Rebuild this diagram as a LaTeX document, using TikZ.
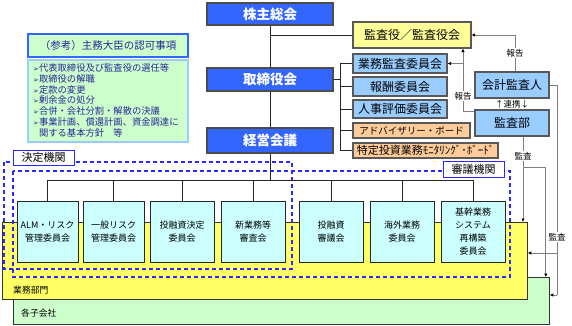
\documentclass[tikz,border=0pt]{standalone}
\usepackage{fontspec}
\setmainfont{Noto Sans CJK JP}
\newfontfamily\dejavu{DejaVu Sans}
\usetikzlibrary{arrows.meta}
\definecolor{mainblue}{RGB}{51,102,255}
\definecolor{lightblue}{RGB}{153,204,255}
\definecolor{paleyellow}{RGB}{255,255,153}
\definecolor{bizyellow}{RGB}{255,255,102}
\definecolor{paleorange}{RGB}{255,204,153}
\definecolor{palegreen}{RGB}{204,255,204}
\definecolor{palecyan}{RGB}{204,255,255}
\definecolor{dashblue}{RGB}{40,40,255}
\definecolor{navytext}{RGB}{40,40,150}
\definecolor{auditgray}{RGB}{128,128,128}
\tikzset{
  mainbox/.style={draw=black!70, line width=1.2pt, fill=mainblue, text=white,
    font=\fontsize{13.5}{14}\selectfont\bfseries, minimum width=126pt, inner sep=0pt},
  subbox/.style={draw=black!65, line width=1.2pt, inner sep=0pt, font=\fontsize{12}{13}\selectfont},
  smallbox/.style={draw=black!65, line width=1.2pt, inner sep=0pt, fill=paleorange},
  combox/.style={draw=black!85, line width=0.8pt, fill=palecyan, inner sep=0pt,
    minimum height=61pt, align=center, font=\fontsize{9}{12.8}\selectfont},
  treeline/.style={draw=black!85, line width=0.8pt},
  audit/.style={draw=auditgray, line width=0.8pt},
  arr/.style={-{Latex[length=3.5pt,width=3.5pt,color=black]}},
  lab/.style={fill=white, inner sep=1pt, font=\fontsize{8.5}{9}\selectfont},
  dashrect/.style={draw=dashblue, line width=1.1pt, dash pattern=on 4pt off 3pt},
  tagbox/.style={draw=dashblue, line width=1pt, fill=white, inner sep=0pt, font=\fontsize{11}{12}\selectfont}
}
\begin{document}
\begin{tikzpicture}[x=1pt,y=-1pt]
\useasboundingbox (0,0) rectangle (572,325);

% background areas
\node[draw=black!80, line width=0.8pt, fill=palegreen, minimum width=536pt, minimum height=47pt, inner sep=0pt, anchor=north west] (kogaisha) at (13,277) {};
\node[draw=black!80, line width=0.8pt, fill=bizyellow, minimum width=525pt, minimum height=77pt, inner sep=0pt, anchor=north west] (gyoumu) at (2,222) {};
\node[anchor=west, inner sep=0pt, font=\fontsize{8.8}{9}\selectfont] (kogaishaLab) at (21,313) {各子会社};
\node[anchor=west, inner sep=0pt, font=\fontsize{8.8}{9}\selectfont] (gyoumuLab) at (13,290) {業務部門};

% dashed groups
\draw[dashrect] (4,162) rectangle (292,269);
\draw[dashrect] (13,171) rectangle (510,277);
\node[tagbox, minimum width=61pt, minimum height=15pt] (kettei) at (43.5,157.5) {決定機関};
\node[tagbox, minimum width=61pt, minimum height=16pt] (shingi) at (473.5,169) {審議機関};

% left reference box
\node[draw=mainblue, line width=1.2pt, fill=palegreen, minimum width=160pt, minimum height=23pt, inner sep=0pt,
  text=navytext, font=\fontsize{10.5}{11}\selectfont] (ref) at (108,45.5) {（参考）主務大臣の認可事項};
\node[draw=lightblue, line width=1.2pt, fill=palegreen, minimum width=160pt, minimum height=82pt, inner sep=0pt] (reflist) at (108,101) {};
\node[anchor=north west, inner sep=0pt, align=left, text=navytext, font=\fontsize{9.3}{10.8}\selectfont] (items) at (33,63.5)
 {{\dejavu\fontsize{7}{10.8}\selectfont ➢}代表取締役及び監査役の選任等\\
  {\dejavu\fontsize{7}{10.8}\selectfont ➢}取締役の解職\\
  {\dejavu\fontsize{7}{10.8}\selectfont ➢}定款の変更\\
  {\dejavu\fontsize{7}{10.8}\selectfont ➢}剰余金の処分\\
  {\dejavu\fontsize{7}{10.8}\selectfont ➢}合併・会社分割・解散の決議\\
  {\dejavu\fontsize{7}{10.8}\selectfont ➢}事業計画、償還計画、資金調達に\\
  {\dejavu\fontsize{7}{10.8}\selectfont\phantom{➢}}関する基本方針　等};

% main chain
\node[mainbox, minimum height=22pt] (kabu) at (270,14) {株主総会};
\node[mainbox, minimum height=23pt] (tori) at (270,79.5) {取締役会};
\node[mainbox, minimum height=25pt] (keiei) at (270,140.5) {経営会議};

% audit & committees on the right
\node[subbox, fill=paleyellow, minimum width=118pt, minimum height=26pt] (kansa) at (412,35) {監査役／監査役会};
\node[subbox, fill=lightblue, minimum width=94pt, minimum height=19pt] (gyomu) at (400,63.5) {業務監査委員会};
\node[subbox, fill=lightblue, minimum width=94pt, minimum height=19pt] (hoshu) at (400,86.5) {報酬委員会};
\node[subbox, fill=lightblue, minimum width=94pt, minimum height=18pt] (jinji) at (400,109) {人事評価委員会};
\node[smallbox, minimum width=117pt, minimum height=15pt, font=\fontsize{9.5}{10}\selectfont] (adv) at (411.5,130.5) {アドバイザリー・ボード};
\node[smallbox, minimum width=145pt, minimum height=15pt, font=\fontsize{11}{12}\selectfont] (tokutei) at (425.5,150.5) {特定投資業務ﾓﾆﾀﾘﾝｸﾞ･ﾎﾞｰﾄﾞ};
\node[subbox, fill=lightblue, minimum width=74pt, minimum height=26pt] (kaikei) at (512,85) {会計監査人};
\node[subbox, fill=lightblue, minimum width=74pt, minimum height=26pt] (kansabu) at (512,123) {監査部};

% committees under 経営会議
\node[combox, minimum width=61pt] (c1) at (47.5,231.5) {ALM・リスク\\管理委員会};
\node[combox, minimum width=61pt] (c2) at (113.5,231.5) {一般リスク\\管理委員会};
\node[combox, minimum width=64pt] (c3) at (182,231.5) {投融資決定\\委員会};
\node[combox, minimum width=64pt] (c4) at (253,231.5) {新業務等\\審査会};
\node[combox, minimum width=64pt] (c5) at (331,231.5) {投融資\\審議会};
\node[combox, minimum width=64pt] (c6) at (402,231.5) {海外業務\\委員会};
\node[combox, minimum width=64pt] (c7) at (473,231.5) {基幹業務\\システム\\再構築\\委員会};

% main chain lines
\draw[treeline] (kabu.south) -- (tori.north);
\draw[treeline] (tori.south) -- (keiei.north);
\draw[treeline] (kansa.west -| kabu.south) -- (kansa.west);

% bracket to committees of the board
\coordinate (br) at (340,0);
\draw[treeline] (tori.east) -- (tori.east -| br);
\draw[treeline] (gyomu.west -| br) -- (tokutei.west -| br);
\foreach \n in {gyomu,hoshu,jinji,adv,tokutei} \draw[treeline] (\n.west -| br) -- (\n.west);

% tree to committees
\coordinate (tr) at (0,180);
\draw[treeline] (keiei.south) -- (keiei.south |- tr);
\draw[treeline] (c1.north |- tr) -- (c7.north |- tr);
\foreach \n in {c1,c2,c3,c4,c5,c6,c7} \draw[treeline] (\n.north |- tr) -- (\n.north);

% audit connectors
\draw[audit,arr] ([xshift=3pt]kaikei.north) |- (kansa.east);
\coordinate (lx) at (463,0);
\draw[audit,arr] ([yshift=-2pt]kansabu.north west) -| (kansa.south -| lx);
\draw[audit,arr] (gyomu.east -| lx) -- (gyomu.east);
\coordinate (ax) at (523,0);
\coordinate (ay) at (0,167);
\draw[audit,arr] (kansabu.south -| ax) -- (gyoumu.north -| ax);
\draw[audit,arr] (ax |- ay) -| ([xshift=-4pt]kogaisha.north east);
\coordinate (rx) at (557,0);
\coordinate (gy) at (0,253);
\coordinate (ky) at (0,295);
\draw[audit] (kaikei.east) -| (rx |- ky);
\draw[audit,arr] (rx |- gy) -- (gyoumu.east |- gy);
\draw[audit,arr] (rx |- ky) -- (kogaisha.east |- ky);

% labels
\node[lab] (rep1) at (515,53) {報告};
\node[lab] (rep2) at (463,96) {報告};
\node[lab] (renkei) at (512,104) {↑連携↓};
\node[lab] (aud1) at (523,156) {監査};
\node[lab] (aud2) at (557,237) {監査};
\end{tikzpicture}
\end{document}
